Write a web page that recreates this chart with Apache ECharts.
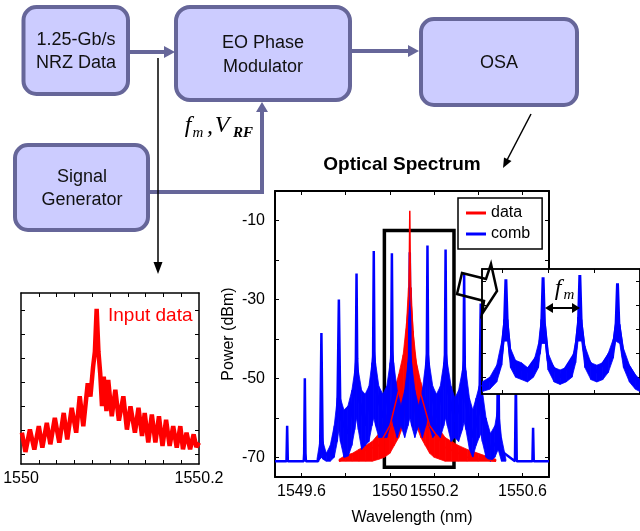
<!DOCTYPE html>
<html>
<head>
<meta charset="utf-8">
<script src="https://cdn.jsdelivr.net/npm/echarts@6/dist/echarts.min.js"></script>
<style>
  html, body { margin: 0; padding: 0; background: #fff; }
  #chart { width: 640px; height: 531px; }
</style>
</head>
<body>
<div id="chart"></div>
<script>
// ---- main spectrum: comb lines [wavelength nm, dBm]
const combLine = [
  [1549.48, -71], [1549.532, -71], [1549.535, -62], [1549.538, -71],
  [1549.610, -71], [1549.612, -69], [1549.615, -50], [1549.618, -69], [1549.620, -71],
  [1549.675, -71], [1549.684, -69], [1549.690, -38.5], [1549.696, -69], [1549.730, -69.5],
  [1549.762, -60], [1549.769, -30], [1549.776, -60], [1549.810, -64],
  [1549.842, -52], [1549.846, -45], [1549.849, -23.4], [1549.852, -45], [1549.856, -54], [1549.888, -62],
  [1549.920, -50], [1549.924, -44], [1549.927, -17.7], [1549.930, -44], [1549.934, -52], [1549.968, -60],
  [1550.002, -50], [1550.006, -44], [1550.009, -18.3], [1550.012, -44], [1550.016, -52], [1550.050, -60],
  [1550.083, -50], [1550.087, -44], [1550.090, -18], [1550.093, -44], [1550.097, -50], [1550.130, -60],
  [1550.163, -50], [1550.167, -44], [1550.170, -16.3], [1550.173, -44], [1550.177, -50], [1550.211, -60],
  [1550.245, -50], [1550.249, -44], [1550.252, -17.3], [1550.255, -44], [1550.259, -52], [1550.294, -61],
  [1550.329, -54], [1550.333, -47], [1550.336, -23.4], [1550.339, -47], [1550.343, -56], [1550.375, -65],
  [1550.405, -58], [1550.411, -31], [1550.417, -60], [1550.455, -68],
  [1550.485, -66], [1550.490, -40], [1550.495, -68],
  [1550.566, -71], [1550.570, -50], [1550.574, -71],
  [1550.645, -71], [1550.648, -62.5], [1550.651, -71], [1550.72, -71]
];
// noisy pedestal under the comb: [wavelength, low, high]
const combBand = [
  [1549.670, -71, -70.5], [1549.683, -70.5, -66], [1549.690, -70, -62], [1549.697, -70.5, -66],
  [1549.712, -71, -69], [1549.730, -71, -67], [1549.748, -70, -62],
  [1549.762, -66, -55], [1549.769, -63, -50], [1549.776, -66, -55],
  [1549.792, -70, -58], [1549.810, -70, -57], [1549.828, -67, -53],
  [1549.841, -63, -48], [1549.849, -60, -43], [1549.857, -63, -48],
  [1549.872, -68, -53], [1549.888, -67, -54], [1549.905, -66, -52],
  [1549.919, -62, -46], [1549.927, -60, -41], [1549.935, -62, -46],
  [1549.950, -65, -52], [1549.968, -65, -54], [1549.986, -65, -52],
  [1550.001, -62, -46], [1550.009, -60, -41], [1550.017, -62, -46],
  [1550.033, -65, -53], [1550.050, -62, -57], [1550.067, -65, -53],
  [1550.082, -62, -46], [1550.090, -60, -41], [1550.098, -62, -46],
  [1550.113, -65, -53], [1550.130, -62, -57], [1550.147, -65, -53],
  [1550.162, -62, -46], [1550.170, -60, -41], [1550.178, -62, -46],
  [1550.194, -65, -52], [1550.211, -64, -54], [1550.228, -65, -52],
  [1550.244, -62, -46], [1550.252, -60, -41], [1550.260, -62, -46],
  [1550.277, -66, -52], [1550.294, -65, -55], [1550.311, -66, -53],
  [1550.328, -63, -48], [1550.336, -61, -44], [1550.344, -63, -48],
  [1550.360, -68, -55], [1550.375, -70, -58], [1550.390, -67, -55],
  [1550.404, -65, -52], [1550.411, -64, -50], [1550.418, -66, -53],
  [1550.435, -70, -60], [1550.455, -71, -64], [1550.475, -70, -62],
  [1550.490, -68, -57], [1550.505, -71, -65], [1550.525, -71, -70.5]
];
// modulated data spectrum
const dataLine = [
  [1549.77, -71], [1549.85, -69], [1549.95, -67], [1550.00, -62], [1550.04, -53],
  [1550.07, -42], [1550.085, -30], [1550.088, -20], [1550.090, -7.5], [1550.092, -20],
  [1550.095, -30], [1550.11, -43], [1550.14, -54], [1550.18, -62], [1550.25, -67.5],
  [1550.35, -70], [1550.48, -71]
];
const dataBand = [
  [1549.770, -71, -70.5], [1549.800, -71, -69.5], [1549.830, -71, -69], [1549.860, -71, -68],
  [1549.890, -71, -67], [1549.920, -71, -66], [1549.950, -70.5, -64], [1549.975, -70, -61],
  [1550.000, -69, -57], [1550.020, -67, -53], [1550.040, -65, -49], [1550.060, -62, -44],
  [1550.075, -55, -36], [1550.084, -46, -27], [1550.096, -46, -27], [1550.105, -55, -38],
  [1550.120, -62, -46], [1550.140, -65, -51], [1550.160, -67, -55], [1550.180, -69, -58],
  [1550.200, -70, -61], [1550.225, -70.5, -63], [1550.250, -71, -65], [1550.280, -71, -66],
  [1550.310, -71, -67], [1550.350, -71, -68], [1550.400, -71, -69], [1550.450, -71, -70],
  [1550.480, -71, -70.5]
];
// zoom rectangle [x0, x1, yLow, yHigh]
const zoomBox = [1549.975, 1550.29, -72.5, -12.5];

// ---- left inset: input data
const inputData = [
  [1550.001, -71], [1550.005, -79], [1550.010, -69.7], [1550.015, -78], [1550.020, -68.3],
  [1550.024, -77.2], [1550.029, -66.9], [1550.033, -75.8], [1550.038, -64.9], [1550.043, -75.1],
  [1550.048, -62.8], [1550.052, -73.8], [1550.057, -60.7], [1550.062, -71], [1550.066, -55.9],
  [1550.070, -68.3], [1550.075, -50.5], [1550.078, -56], [1550.081, -43.6], [1550.083, -37.4],
  [1550.085, -19.6], [1550.087, -37.4], [1550.089, -46.3], [1550.091, -60], [1550.093, -47.7],
  [1550.096, -62], [1550.098, -49.1], [1550.102, -64.2], [1550.106, -53.2], [1550.110, -66],
  [1550.115, -55.9], [1550.119, -69.7], [1550.123, -60.1], [1550.128, -71], [1550.132, -60.7],
  [1550.136, -72.4], [1550.139, -62.8], [1550.143, -75.1], [1550.147, -63.5], [1550.151, -75.1],
  [1550.155, -64.2], [1550.159, -76.5], [1550.163, -65.6], [1550.167, -76.5], [1550.171, -68.3],
  [1550.175, -77.2], [1550.179, -68.3], [1550.182, -77.9], [1550.186, -71], [1550.190, -77.9],
  [1550.194, -71.7], [1550.197, -77], [1550.200, -75.1]
];

// ---- right inset: zoomed comb
const insetLine = [
  [1549.955, -64], [1549.990, -58], [1549.998, -50], [1550.004, -38], [1550.007, -19.3],
  [1550.010, -38], [1550.017, -52], [1550.050, -58], [1550.080, -50], [1550.085, -38],
  [1550.088, -18.5], [1550.091, -38], [1550.099, -53], [1550.125, -60], [1550.158, -50],
  [1550.165, -38], [1550.168, -17.5], [1550.171, -38], [1550.179, -51], [1550.205, -58],
  [1550.241, -48], [1550.247, -38], [1550.250, -21], [1550.253, -38], [1550.263, -52],
  [1550.299, -63]
];
const insetBand = [
  [1549.955, -66, -62], [1549.972, -65, -60], [1549.987, -62, -55], [1549.998, -55, -45],
  [1550.003, -45, -36], [1550.011, -45, -36], [1550.017, -56, -48], [1550.028, -60, -53],
  [1550.041, -61, -54], [1550.054, -62, -56], [1550.067, -60, -54], [1550.078, -56, -46],
  [1550.084, -46, -36], [1550.093, -46, -38], [1550.099, -57, -50], [1550.112, -62, -56],
  [1550.125, -63, -57], [1550.138, -62, -56], [1550.151, -60, -53], [1550.159, -54, -45],
  [1550.164, -45, -35], [1550.172, -45, -36], [1550.179, -56, -47], [1550.192, -61, -54],
  [1550.205, -62, -55], [1550.218, -61, -54], [1550.230, -58, -50], [1550.241, -52, -44],
  [1550.246, -45, -37], [1550.255, -46, -38], [1550.263, -56, -48], [1550.276, -62, -55],
  [1550.289, -65, -59], [1550.299, -66, -61]
];

// tick values
const mainXTicks = [1549.6, 1549.8, 1550, 1550.2, 1550.4, 1550.6];
const mainXLabels = [1549.6, 1550, 1550.2, 1550.6];
const mainYTicks = [-70, -60, -50, -40, -30, -20, -10];
const mainYLabels = [-70, -50, -30, -10];
const inXTicks = [1550.02, 1550.04, 1550.06, 1550.08, 1550.1, 1550.12, 1550.14, 1550.16, 1550.18];
const inXLabels = [1550, 1550.2];
const inYTicks = [-80, -70, -60, -50, -40, -30, -20];
const zXTicks = [1550.0, 1550.1, 1550.2];
const zYTicks = [-60, -50, -40, -30, -20];

const FONT = 'Liberation Sans, Arial, sans-serif';
const SERIF = 'Liberation Serif, Times New Roman, serif';
const RED = '#ff0000';
const BLUE = '#0000ff';
const BOX = { fill: '#ccccff', stroke: '#666699', lineWidth: 4 };
const LINK = '#666699';

// axis indices: main 0/1, input inset 2/3, zoom inset 4/5
const MAIN = 0, INPUT = 2, ZOOM = 4;

const fmtNum = v => String(Math.round(v * 10) / 10);

// filled noise band: each row draws the strip up to the next row
function bandSeries(rows, color, idx, z) {
  return {
    type: 'custom', xAxisIndex: idx, yAxisIndex: idx, z: z, silent: true, clip: true,
    data: rows,
    renderItem: function (params, api) {
      const i = params.dataIndex;
      if (i >= rows.length - 1) return null;
      const a = rows[i], b = rows[i + 1];
      return {
        type: 'polygon',
        shape: { points: [api.coord([a[0], a[2]]), api.coord([b[0], b[2]]),
                          api.coord([b[0], b[1]]), api.coord([a[0], a[1]])] },
        style: { fill: color, stroke: color, lineWidth: 0.8 }
      };
    }
  };
}

function frameAxis(kind, grid, pos, min, max, ticks, labels, extra) {
  const ax = {
    type: 'value', gridIndex: grid, position: pos, min: min, max: max,
    splitLine: { show: false },
    axisLine: { show: true, onZero: false, lineStyle: { color: '#000', width: grid === 0 ? 2 : 1.5 } },
    axisTick: { show: true, inside: true, length: 4, customValues: ticks, lineStyle: { color: '#000', width: 1 } },
    axisLabel: labels ? {
      show: true, customValues: labels, formatter: fmtNum,
      color: '#000', fontSize: 16, fontFamily: FONT, margin: kind === 'x' ? 7 : 10
    } : { show: false }
  };
  return Object.assign(ax, extra || {});
}

const chart = echarts.init(document.getElementById('chart'));

const option = {
  animation: false,
  backgroundColor: '#fff',
  grid: [
    { left: 275, top: 191, width: 274, height: 288 },
    { left: 21, top: 293, width: 178, height: 171 },
    { left: 482, top: 269, width: 160, height: 125, show: true, backgroundColor: '#fff',
      borderColor: '#000', borderWidth: 1.5, z: 10 }
  ],
  xAxis: [
    frameAxis('x', 0, 'bottom', 1549.48, 1550.72, mainXTicks, mainXLabels, {
      name: 'Wavelength (nm)', nameLocation: 'middle', nameGap: 33,
      nameTextStyle: { fontSize: 16, fontFamily: FONT, color: '#000' }
    }),
    frameAxis('x', 0, 'top', 1549.48, 1550.72, mainXTicks, null),
    frameAxis('x', 1, 'bottom', 1550, 1550.2, inXTicks, inXLabels),
    frameAxis('x', 1, 'top', 1550, 1550.2, inXTicks, null),
    frameAxis('x', 2, 'bottom', 1549.955, 1550.299, zXTicks, null, { z: 11 }),
    frameAxis('x', 2, 'top', 1549.955, 1550.299, zXTicks, null, { z: 11 })
  ],
  yAxis: [
    frameAxis('y', 0, 'left', -75, -2.5, mainYTicks, mainYLabels, {
      name: 'Power (dBm)', nameLocation: 'middle', nameGap: 38,
      nameTextStyle: { fontSize: 16, fontFamily: FONT, color: '#000' }
    }),
    frameAxis('y', 0, 'right', -75, -2.5, mainYTicks, null),
    frameAxis('y', 1, 'left', -84, -13, inYTicks, null),
    frameAxis('y', 1, 'right', -84, -13, inYTicks, null),
    frameAxis('y', 2, 'left', -67, -15, zYTicks, null, { z: 11 }),
    frameAxis('y', 2, 'right', -67, -15, zYTicks, null, { z: 11 })
  ],
  legend: {
    data: ['data', 'comb'], orient: 'vertical', left: 458, top: 198,
    backgroundColor: '#fff', borderColor: '#000', borderWidth: 1.5, borderRadius: 0,
    padding: [7, 12, 7, 8], itemGap: 5, itemWidth: 20, itemHeight: 3, icon: 'rect',
    textStyle: { fontSize: 16, fontFamily: FONT, color: '#000' }
  },
  series: [
    bandSeries(dataBand, RED, MAIN, 2),
    bandSeries(combBand, BLUE, MAIN, 3),
    { name: 'comb', type: 'line', xAxisIndex: MAIN, yAxisIndex: MAIN, z: 4, data: combLine,
      showSymbol: false, lineStyle: { color: BLUE, width: 2.5 }, itemStyle: { color: BLUE } },
    { name: 'data', type: 'line', xAxisIndex: MAIN, yAxisIndex: MAIN, z: 5, data: dataLine,
      showSymbol: false, lineStyle: { color: RED, width: 1.5 }, itemStyle: { color: RED } },
    { type: 'line', xAxisIndex: MAIN, yAxisIndex: MAIN, z: 6, data: [], silent: true,
      markArea: { silent: true,
        itemStyle: { color: 'rgba(0,0,0,0)', borderColor: '#000', borderWidth: 3.5 },
        data: [[{ coord: [zoomBox[0], zoomBox[3]] }, { coord: [zoomBox[1], zoomBox[2]] }]] } },
    { type: 'line', xAxisIndex: INPUT, yAxisIndex: INPUT, data: inputData, showSymbol: false,
      lineStyle: { color: RED, width: 4.5 } },
    bandSeries(insetBand, BLUE, ZOOM, 12),
    { type: 'line', xAxisIndex: ZOOM, yAxisIndex: ZOOM, z: 13, data: insetLine, showSymbol: false,
      lineStyle: { color: BLUE, width: 3 } }
  ],
  graphic: [
    // block diagram
    { type: 'rect', shape: { x: 23.5, y: 7, width: 104.5, height: 87, r: 13 }, style: BOX },
    { type: 'rect', shape: { x: 176, y: 7, width: 174, height: 93, r: 14 }, style: BOX },
    { type: 'rect', shape: { x: 421, y: 19, width: 156, height: 86, r: 13 }, style: BOX },
    { type: 'rect', shape: { x: 15, y: 145, width: 133, height: 85, r: 13 }, style: BOX },
    { type: 'text', x: 76, y: 40, style: { text: '1.25-Gb/s', font: '18px ' + FONT, fill: '#111', align: 'center', verticalAlign: 'middle' } },
    { type: 'text', x: 76, y: 63, style: { text: 'NRZ Data', font: '18px ' + FONT, fill: '#111', align: 'center', verticalAlign: 'middle' } },
    { type: 'text', x: 263, y: 43, style: { text: 'EO Phase', font: '18px ' + FONT, fill: '#111', align: 'center', verticalAlign: 'middle' } },
    { type: 'text', x: 263, y: 67, style: { text: 'Modulator', font: '18px ' + FONT, fill: '#111', align: 'center', verticalAlign: 'middle' } },
    { type: 'text', x: 499, y: 63, style: { text: 'OSA', font: '18px ' + FONT, fill: '#111', align: 'center', verticalAlign: 'middle' } },
    { type: 'text', x: 82, y: 177, style: { text: 'Signal', font: '18px ' + FONT, fill: '#111', align: 'center', verticalAlign: 'middle' } },
    { type: 'text', x: 82, y: 200, style: { text: 'Generator', font: '18px ' + FONT, fill: '#111', align: 'center', verticalAlign: 'middle' } },
    // links
    { type: 'line', shape: { x1: 130, y1: 52, x2: 166, y2: 52 }, style: { stroke: LINK, lineWidth: 4 } },
    { type: 'polygon', shape: { points: [[164, 46], [175, 52], [164, 58]] }, style: { fill: LINK } },
    { type: 'line', shape: { x1: 352, y1: 51, x2: 410, y2: 51 }, style: { stroke: LINK, lineWidth: 4 } },
    { type: 'polygon', shape: { points: [[408, 45], [419, 51], [408, 57]] }, style: { fill: LINK } },
    { type: 'polyline', shape: { points: [[150, 192], [262, 192], [262, 111]] }, style: { stroke: LINK, lineWidth: 4, fill: null } },
    { type: 'polygon', shape: { points: [[256, 112], [262, 102], [268, 112]] }, style: { fill: LINK } },
    { type: 'line', shape: { x1: 158, y1: 58, x2: 158, y2: 266 }, style: { stroke: '#000', lineWidth: 1.5 } },
    { type: 'polygon', shape: { points: [[153.5, 262], [158, 274], [162.5, 262]] }, style: { fill: '#000' } },
    { type: 'line', shape: { x1: 531, y1: 114, x2: 506, y2: 162 }, style: { stroke: '#000', lineWidth: 1.5 } },
    { type: 'polygon', shape: { points: [[511.5, 161], [503, 168], [504, 157.5]] }, style: { fill: '#000' } },
    // f_m , V_RF
    { type: 'text', x: 188, y: 126, style: { text: 'f', font: 'italic 24px ' + SERIF, fill: '#000', align: 'center', verticalAlign: 'middle' } },
    { type: 'text', x: 198, y: 133, style: { text: 'm', font: 'italic 15px ' + SERIF, fill: '#000', align: 'center', verticalAlign: 'middle' } },
    { type: 'text', x: 210, y: 127, style: { text: ',', font: 'italic 24px ' + SERIF, fill: '#000', align: 'center', verticalAlign: 'middle' } },
    { type: 'text', x: 222, y: 126, style: { text: 'V', font: 'italic 24px ' + SERIF, fill: '#000', align: 'center', verticalAlign: 'middle' } },
    { type: 'text', x: 243, y: 133, style: { text: 'RF', font: 'italic bold 15px ' + SERIF, fill: '#000', align: 'center', verticalAlign: 'middle' } },
    // chart titles
    { type: 'text', x: 402, y: 165, style: { text: 'Optical Spectrum', font: 'bold 19px ' + FONT, fill: '#000', align: 'center', verticalAlign: 'middle' } },
    { type: 'text', x: 108, y: 316, z: 20, style: { text: 'Input data', font: '19px ' + FONT, fill: RED, align: 'left', verticalAlign: 'middle' } },
    // callout arrow and f_m marker in the zoom inset
    { type: 'polygon', z: 30, shape: { points: [[462, 273], [486, 279], [491, 264], [497, 291], [482, 314], [484, 301], [457, 294]] },
      style: { fill: 'rgba(255,255,255,0)', stroke: '#000', lineWidth: 2.5 } },
    { type: 'text', x: 558, y: 289, z: 30, style: { text: 'f', font: 'italic 24px ' + SERIF, fill: '#000', align: 'center', verticalAlign: 'middle' } },
    { type: 'text', x: 569, y: 295, z: 30, style: { text: 'm', font: 'italic 15px ' + SERIF, fill: '#000', align: 'center', verticalAlign: 'middle' } },
    { type: 'line', z: 30, shape: { x1: 550, y1: 308, x2: 575, y2: 308 }, style: { stroke: '#000', lineWidth: 2 } },
    { type: 'polygon', z: 30, shape: { points: [[553, 303], [545, 308], [553, 313]] }, style: { fill: '#000' } },
    { type: 'polygon', z: 30, shape: { points: [[572, 303], [580, 308], [572, 313]] }, style: { fill: '#000' } }
  ]
};

chart.setOption(option);
window.addEventListener('resize', () => chart.resize());
</script>
</body>
</html>
